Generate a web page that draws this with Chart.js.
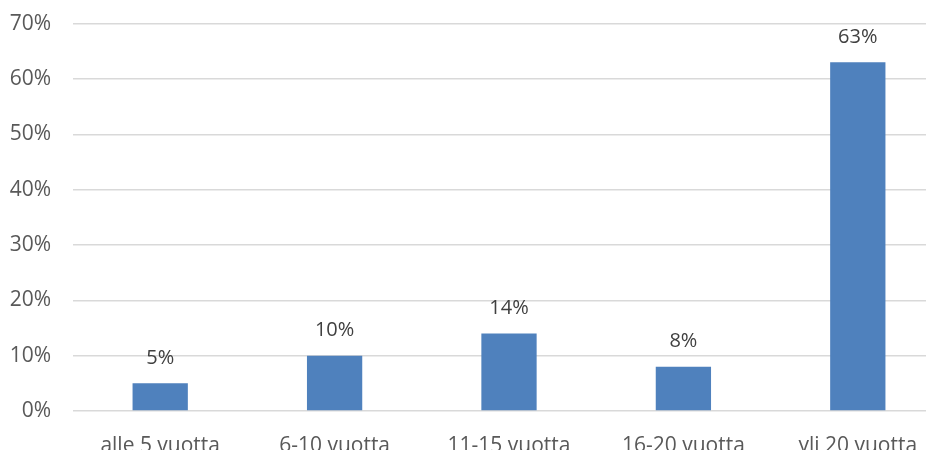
<!DOCTYPE html>
<html>
<head>
<meta charset="utf-8">
<script src="https://cdn.jsdelivr.net/npm/chart.js@4/dist/chart.umd.min.js"></script>
<style>
  html, body { margin: 0; padding: 0; background: #fff; overflow: hidden; }
  #wrap { width: 945px; height: 474px; margin-top: -11px; }
</style>
</head>
<body>
<div id="wrap"><canvas id="chart" width="945" height="474"></canvas></div>
<script>
// ── Data ─────────────────────────────────────────────────────────
const categories = ['alle 5 vuotta', '6-10 vuotta', '11-15 vuotta', '16-20 vuotta', 'yli 20 vuotta'];
const shares = [5, 10, 14, 8, 63];
const yTicks = [0, 10, 20, 30, 40, 50, 60, 70];

const FONT = "'Open Sans', 'Liberation Sans', sans-serif";
const TEXT = '#595959';

// ── Value labels above bars ──────────────────────────────────────
const valueLabels = {
  id: 'valueLabels',
  afterDatasetsDraw(chart) {
    const ctx = chart.ctx;
    const meta = chart.getDatasetMeta(0);
    ctx.save();
    ctx.font = '20px ' + FONT;
    ctx.fillStyle = '#404040';
    ctx.textAlign = 'center';
    ctx.textBaseline = 'middle';
    meta.data.forEach((bar, i) => {
      ctx.fillText(shares[i] + '%', bar.x, bar.y - 25);
    });
    ctx.restore();
  }
};

new Chart(document.getElementById('chart'), {
  type: 'bar',
  data: {
    labels: categories,
    datasets: [{
      data: shares,
      backgroundColor: '#4F81BD',
      categoryPercentage: 1,
      barPercentage: 0.317
    }]
  },
  options: {
    responsive: false,
    animation: false,
    layout: { padding: { top: 4, left: 0, right: 0, bottom: 0 } },
    plugins: { legend: { display: false }, tooltip: { enabled: false } },
    scales: {
      x: {
        grid: { display: false },
        border: { display: false },
        ticks: { color: TEXT, font: { family: FONT, size: 21 }, padding: 14, maxRotation: 0 },
        afterFit: s => { s.height = 52; }
      },
      y: {
        min: 0,
        max: 70,
        afterBuildTicks: s => { s.ticks = yTicks.map(v => ({ value: v })); },
        grid: { color: '#d9d9d9', lineWidth: 1.5, drawTicks: false },
        border: { display: false },
        ticks: { color: TEXT, font: { family: FONT, size: 21 }, padding: 22, callback: v => v + '%' },
        afterFit: s => { s.width = 73; }
      }
    }
  },
  plugins: [valueLabels]
});
</script>
</body>
</html>
